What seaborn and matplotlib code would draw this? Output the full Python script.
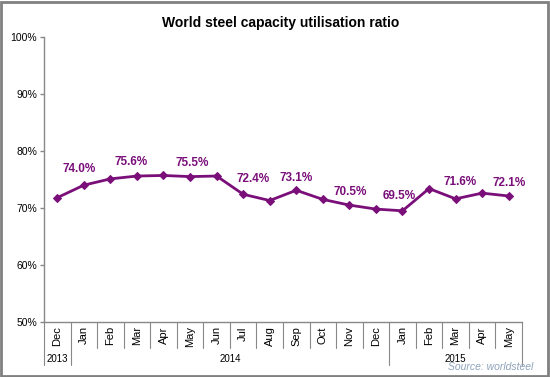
import matplotlib
matplotlib.use("Agg")
import matplotlib.pyplot as plt
import seaborn as sns
import pandas as pd
from matplotlib.patches import Rectangle

months = ["Dec", "Jan", "Feb", "Mar", "Apr", "May", "Jun", "Jul", "Aug", "Sep",
          "Oct", "Nov", "Dec", "Jan", "Feb", "Mar", "Apr", "May"]
values = [71.8, 74.0, 75.1, 75.6, 75.7, 75.5, 75.6, 72.4, 71.3, 73.1,
          71.5, 70.5, 69.8, 69.5, 73.4, 71.6, 72.6, 72.1]
labelled = [1, 3, 5, 7, 9, 11, 13, 15, 17]
years = ["2013", "2014", "2015"]
year_spans = [(0, 0), (1, 12), (13, 17)]
yticks = [50, 60, 70, 80, 90, 100]

# label placement (pixel offsets from the point), styling only
label_dx = [-5, -6, 2, 10, 0, 1, -3, 4, 0]
label_dy = [16, 14, 14, 15, 12, 13, 15, 17, 13]

sns.set_theme(style="white")
plt.rcParams['font.family'] = ['Liberation Sans', 'DejaVu Sans']

purple = "#7A0F7A"
df = pd.DataFrame({"idx": range(len(values)), "value": values})

fig = plt.figure(figsize=(5.5, 3.77), dpi=100)
ax = fig.add_axes([0.08, 0.146, 0.869, 0.756])
sns.lineplot(data=df, x="idx", y="value", ax=ax, color=purple, linewidth=2,
             marker="D", markersize=4.5, markeredgecolor=purple)

for i, dx, dy in zip(labelled, label_dx, label_dy):
    ax.annotate(f"{values[i]:.1f}%", (i, values[i]), xytext=(dx, dy),
                textcoords="offset pixels", ha="center", va="center",
                fontsize=8.5, fontweight="bold", color=purple)

ax.set_xlim(-0.5, len(values) - 0.5)
ax.set_ylim(50, 100)
ax.set_yticks(yticks)
ax.set_yticklabels([f"{v}%" for v in yticks], fontsize=7.5)
ax.set_xticks([])
ax.set_xlabel("")
ax.set_ylabel("")
for s in ["top", "right"]:
    ax.spines[s].set_visible(False)
for s in ["left", "bottom"]:
    ax.spines[s].set_color("#888888")
    ax.spines[s].set_linewidth(1)
ax.tick_params(axis="y", left=True, length=3, width=1, color="#888888",
               pad=2, labelcolor="black")

tr = ax.get_xaxis_transform()
# month labels
for i, m in enumerate(months):
    ax.text(i, -0.015, m, transform=tr, rotation=90, ha="center", va="top",
            fontsize=8, color="black")
# separators between months and years
group_edges = set()
for a, b in year_spans:
    group_edges.add(a - 0.5)
    group_edges.add(b + 0.5)
for k in range(len(months) + 1):
    x = k - 0.5
    y1 = -0.152 if x in group_edges else -0.09
    ax.plot([x, x], [0, y1], transform=tr, color="#888888", lw=0.8,
            clip_on=False)
for yr, (a, b) in zip(years, year_spans):
    ax.text((a + b) / 2, -0.13, yr, transform=tr, ha="center", va="center",
            fontsize=7, color="black")

fig.text(0.51, 0.94, "World steel capacity utilisation ratio", ha="center",
         va="center", fontsize=10, fontweight="bold", color="black")
fig.text(0.969, 0.012, "Source: worldsteel", ha="right", va="bottom",
         fontsize=7.5, style="italic", color="#8DA2BA")

fig.patches.append(Rectangle((0.002, 0.003), 0.995, 0.993,
                             transform=fig.transFigure, fill=False,
                             edgecolor="#808080", linewidth=2))

fig.savefig("out.png", dpi=100)
